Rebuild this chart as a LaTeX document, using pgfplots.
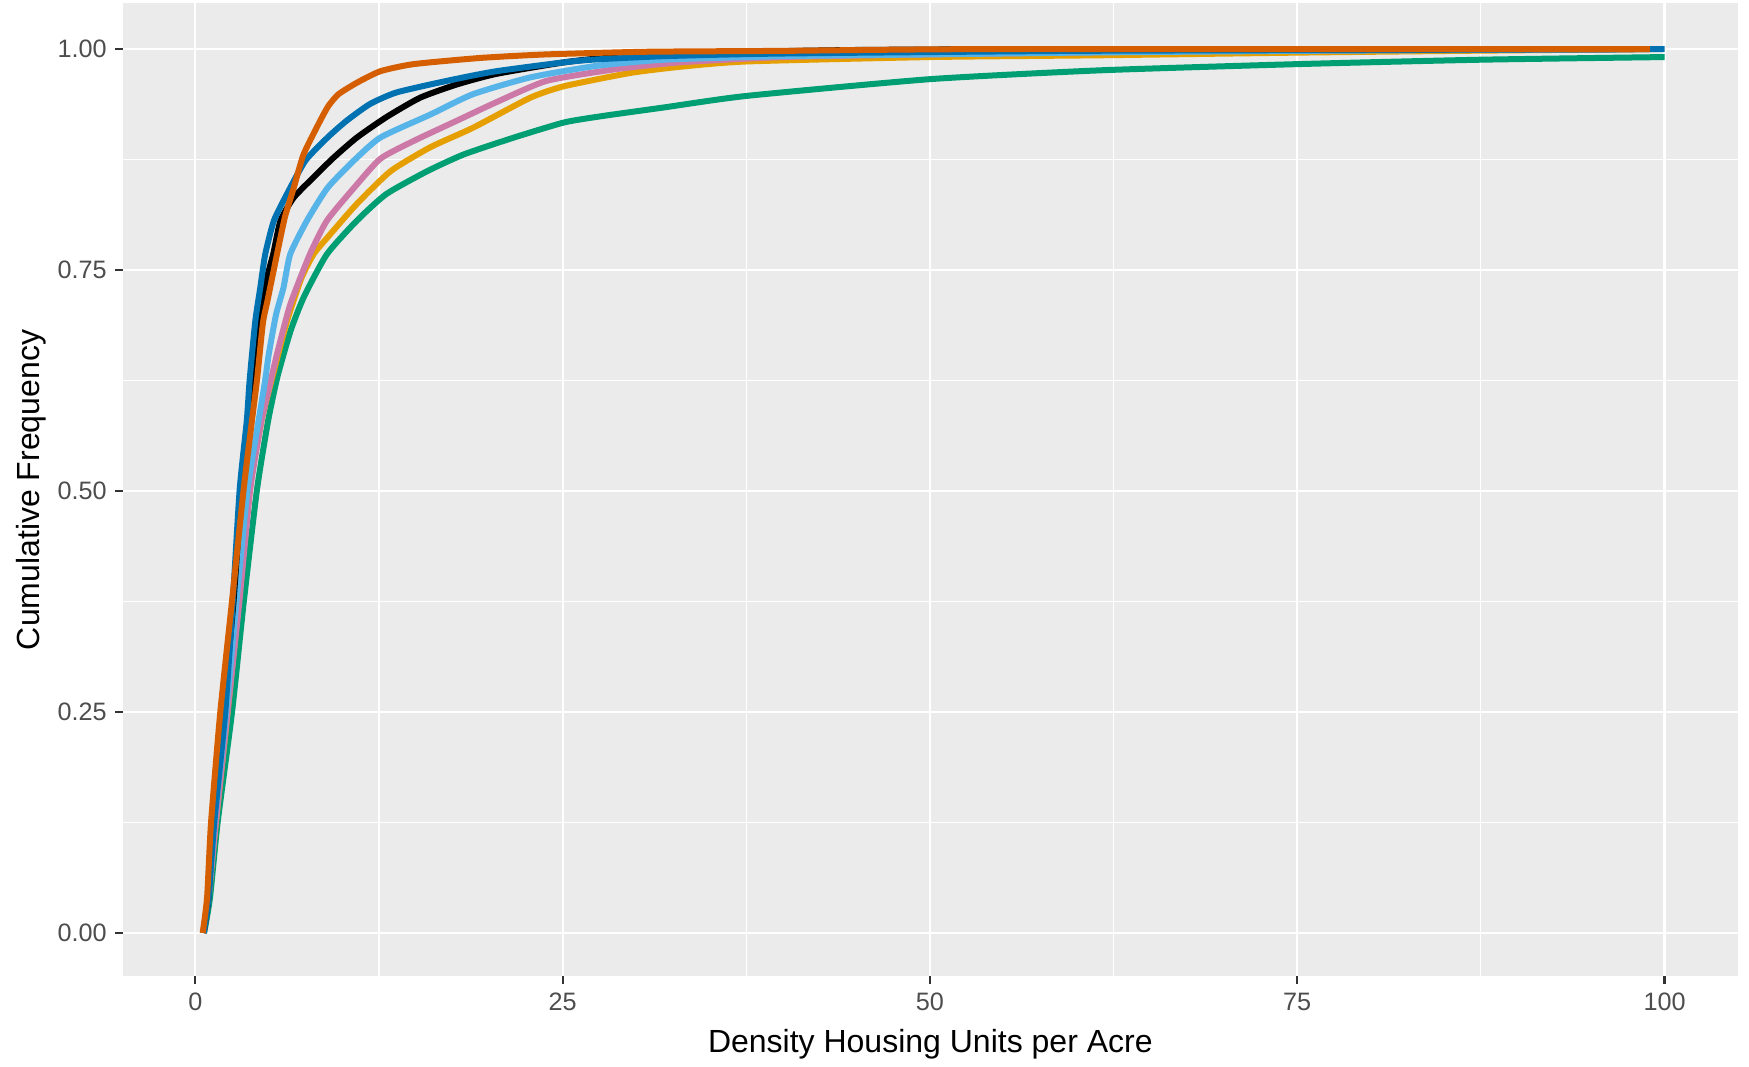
\documentclass[border=0pt]{standalone}
\usepackage{pgfplots}
\pgfplotsset{compat=1.18}
\usepackage{fontspec}
\setmainfont{Liberation Sans}
\definecolor{ggbg}{HTML}{EBEBEB}
\definecolor{ggtick}{HTML}{333333}
\definecolor{ggtext}{HTML}{4D4D4D}
\definecolor{oiblack}{HTML}{000000}
\definecolor{oiorange}{HTML}{E69F00}
\definecolor{oisky}{HTML}{56B4E9}
\definecolor{oigreen}{HTML}{009E73}
\definecolor{oiblue}{HTML}{0072B2}
\definecolor{oiverm}{HTML}{D55E00}
\definecolor{oipink}{HTML}{CC79A7}
\begin{document}
\begin{tikzpicture}
\useasboundingbox (-30.68pt,-22.5pt) rectangle (406.5pt,244.08pt);
\begin{axis}[
  at={(0,0)}, anchor=south west,
  scale only axis, width=403.75pt, height=243.2pt,
  xmin=-4.94, xmax=105, ymin=-0.0492, ymax=1.0516,
  axis background/.style={fill=ggbg},
  axis line style={draw=none},
  xtick={0,25,50,75,100}, xticklabels={0,25,50,75,100},
  ytick={0,0.25,0.5,0.75,1}, yticklabels={0.00,0.25,0.50,0.75,1.00},
  minor xtick={12.5,37.5,62.5,87.5},
  minor ytick={0.125,0.375,0.625,0.875},
  grid=both,
  major grid style={white, line width=0.55pt},
  minor grid style={white, line width=0.28pt},
  tick align=outside, tick pos=left,
  major tick length=1.9pt, minor tick length=0pt,
  tick style={ggtick, line width=0.55pt},
  xticklabel style={font=\fontsize{6.3}{7}\selectfont, color=ggtext, anchor=north, inner sep=0pt, yshift=-2.1pt},
  yticklabel style={font=\fontsize{6.3}{7}\selectfont, color=ggtext, anchor=east, inner sep=0pt, xshift=-1.9pt},
  xlabel={Density Housing Units per Acre},
  ylabel={Cumulative Frequency},
  xlabel style={font=\fontsize{8}{9.6}\selectfont, at={(axis description cs:0.5,-0.0782)}, anchor=base, inner sep=0pt},
  ylabel style={font=\fontsize{8}{9.6}\selectfont, at={(axis description cs:-0.05164,0.5)}, anchor=base, rotate=0, inner sep=0pt},
  every axis plot/.append style={line width=1.5pt, line join=round, no marks, smooth, tension=0.35},
]
\addplot[oigreen] coordinates {(0.6,0) (1.0,0.04) (1.52,0.125) (2.5,0.25) (3.3,0.375) (4.2,0.502) (4.95,0.579) (5.6,0.63) (6.5,0.682) (7.4,0.72) (8.96,0.768) (11.0,0.806) (13.0,0.836) (15.8,0.862) (18.3,0.881) (21.7,0.9) (25.1,0.917) (27.6,0.924) (31.9,0.934) (37.5,0.947) (50,0.966) (61.6,0.976) (75,0.983) (87.5,0.988) (100,0.991)};
\addplot[oiorange] coordinates {(0.57,0) (0.9,0.04) (1.4,0.125) (2.2,0.25) (2.95,0.375) (3.7,0.502) (4.5,0.579) (5.2,0.626) (6.2,0.69) (7.2,0.74) (8.05,0.768) (9.0,0.787) (11.0,0.825) (13.3,0.862) (16.0,0.889) (18.9,0.911) (22.8,0.945) (25.1,0.958) (29.6,0.973) (33,0.98) (37.5,0.986) (50,0.991) (61.6,0.993) (75,0.996) (86,0.998) (99,1.0)};
\addplot[oipink] coordinates {(0.57,0) (0.9,0.04) (1.4,0.125) (2.2,0.25) (3.0,0.375) (3.74,0.502) (4.5,0.579) (5.0,0.615) (5.56,0.655) (6.46,0.711) (7.8,0.768) (8.96,0.806) (10.8,0.843) (12.6,0.876) (14.85,0.896) (17.8,0.919) (20.5,0.94) (23.9,0.964) (28.5,0.977) (33,0.985) (40,0.991) (50,0.994) (70,0.998) (99,1.0)};
\addplot[oisky] coordinates {(0.57,0) (0.9,0.04) (1.3,0.125) (2.1,0.25) (2.8,0.375) (3.56,0.502) (4.3,0.579) (4.76,0.626) (5.0,0.655) (5.5,0.7) (6.0,0.73) (6.46,0.768) (7.6,0.806) (9.0,0.843) (10.8,0.874) (12.6,0.9) (16.0,0.926) (18.9,0.949) (22.8,0.968) (27.3,0.981) (31.9,0.988) (40,0.992) (50,0.994) (60,0.996) (75,0.998) (99,1.0)};
\addplot[oiblack] coordinates {(0.57,0) (0.9,0.04) (1.2,0.125) (1.9,0.25) (2.6,0.375) (3.15,0.502) (3.74,0.579) (4.05,0.626) (4.3,0.69) (4.7,0.73) (5.3,0.768) (5.8,0.806) (6.7,0.832) (8.05,0.855) (9.4,0.877) (11.0,0.9) (13.0,0.923) (15.3,0.945) (17.8,0.96) (20.5,0.972) (25.1,0.985) (28.5,0.991) (35,0.996) (45,0.999) (60,1.0) (98,1.0)};
\addplot[oiblue] coordinates {(0.57,0) (0.9,0.04) (1.29,0.125) (2.04,0.25) (2.55,0.375) (3.02,0.502) (3.5,0.579) (3.7,0.626) (4.08,0.692) (4.42,0.73) (4.76,0.768) (5.35,0.806) (6.3,0.838) (7.5,0.874) (9.0,0.9) (10.3,0.919) (11.9,0.938) (13.7,0.951) (17.1,0.964) (20.5,0.975) (26.2,0.987) (31.9,0.992) (40,0.995) (60,0.998) (80,0.999) (100,1.0)};
\addplot[oiverm] coordinates {(0.5,0) (0.8,0.04) (1.07,0.125) (1.7,0.25) (2.5,0.376) (3.29,0.502) (3.85,0.579) (4.2,0.626) (4.6,0.69) (4.92,0.716) (5.56,0.768) (6.1,0.81) (6.7,0.843) (7.37,0.881) (8.5,0.919) (9.07,0.936) (9.75,0.949) (11.0,0.962) (12.6,0.975) (14.85,0.983) (19.4,0.99) (23.9,0.994) (30.7,0.997) (40,0.998) (54,1.0) (99,1.0)};
\end{axis}
\end{tikzpicture}
\end{document}
